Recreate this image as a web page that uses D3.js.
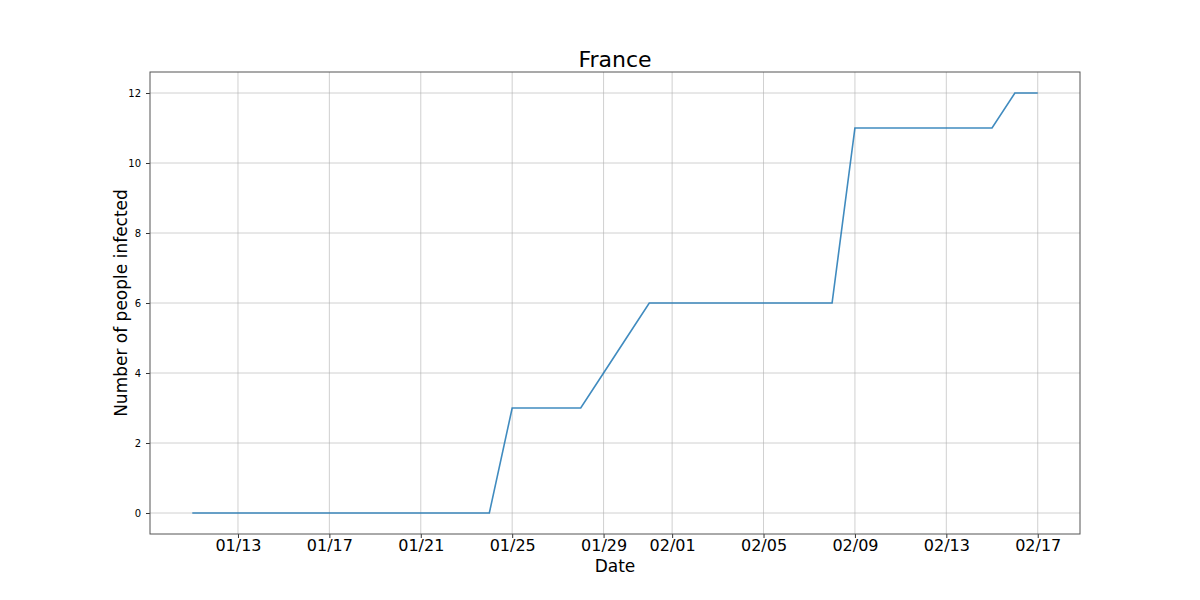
<!DOCTYPE html>
<html><head><meta charset="utf-8">
<script src="https://cdn.jsdelivr.net/npm/d3@7"></script>
<style>body{margin:0;background:#fff}svg{font-family:"DejaVu Sans",sans-serif}</style>
</head><body>
<svg id="c" width="1200" height="600"></svg>
<script>
const dates = ["2020-01-11","2020-01-12","2020-01-13","2020-01-14","2020-01-15","2020-01-16","2020-01-17","2020-01-18","2020-01-19","2020-01-20","2020-01-21","2020-01-22","2020-01-23","2020-01-24","2020-01-25","2020-01-26","2020-01-27","2020-01-28","2020-01-29","2020-01-30","2020-01-31","2020-02-01","2020-02-02","2020-02-03","2020-02-04","2020-02-05","2020-02-06","2020-02-07","2020-02-08","2020-02-09","2020-02-10","2020-02-11","2020-02-12","2020-02-13","2020-02-14","2020-02-15","2020-02-16","2020-02-17"];
const infected = [0,0,0,0,0,0,0,0,0,0,0,0,0,0,3,3,3,3,4,5,6,6,6,6,6,6,6,6,6,11,11,11,11,11,11,11,12,12];
const xTickDates = ["2020-01-13","2020-01-17","2020-01-21","2020-01-25","2020-01-29","2020-02-01","2020-02-05","2020-02-09","2020-02-13","2020-02-17"];
const yTicks = [0,2,4,6,8,10,12];

const parse = d3.utcParse("%Y-%m-%d");
const data = dates.map((d,i)=>({date:parse(d), v:infected[i]}));
const svg = d3.select("#c");
const L=150,R=1080,T=72,B=534;
const ext = d3.extent(data,d=>d.date);
const span = ext[1]-ext[0];
const x = d3.scaleUtc().domain([new Date(+ext[0]-span*0.05), new Date(+ext[1]+span*0.05)]).range([L,R]);
const y = d3.scaleLinear().domain([-0.6,12.6]).range([B,T]);

// grid
svg.append("g").selectAll("line").data(xTickDates.map(parse)).join("line")
  .attr("x1",d=>x(d)).attr("x2",d=>x(d)).attr("y1",T).attr("y2",B)
  .attr("stroke","#b0b0b0").attr("stroke-opacity",0.6).attr("stroke-width",1);
svg.append("g").selectAll("line").data(yTicks).join("line")
  .attr("y1",d=>y(d)).attr("y2",d=>y(d)).attr("x1",L).attr("x2",R)
  .attr("stroke","#b0b0b0").attr("stroke-opacity",0.6).attr("stroke-width",1);

// line
svg.append("path").datum(data)
  .attr("d",d3.line().x(d=>x(d.date)).y(d=>y(d.v)))
  .attr("fill","none").attr("stroke","#1f77b4").attr("stroke-opacity",0.85).attr("stroke-width",1.6);

// axes
const xa = svg.append("g").attr("transform",`translate(0,${B})`)
  .call(d3.axisBottom(x).tickValues(xTickDates.map(parse)).tickFormat(d3.utcFormat("%m/%d")).tickSizeOuter(0).tickSize(4).tickPadding(2));
xa.select(".domain").remove();
xa.selectAll("text").attr("font-size",16).attr("fill","#000").attr("font-family","DejaVu Sans");
xa.selectAll("line").attr("stroke","#333");
const ya = svg.append("g").attr("transform",`translate(${L},0)`)
  .call(d3.axisLeft(y).tickValues(yTicks).tickSizeOuter(0).tickSize(4).tickPadding(5));
ya.select(".domain").remove();
ya.selectAll("text").attr("font-size",10).attr("fill","#000").attr("font-family","DejaVu Sans");
ya.selectAll("line").attr("stroke","#333");

svg.append("rect").attr("x",L).attr("y",T).attr("width",R-L).attr("height",B-T)
  .attr("fill","none").attr("stroke","#555").attr("stroke-width",1);

svg.append("text").attr("x",(L+R)/2).attr("y",67).attr("text-anchor","middle").attr("font-size",22).text("France");
svg.append("text").attr("x",(L+R)/2).attr("y",572).attr("text-anchor","middle").attr("font-size",17).text("Date");
svg.append("text").attr("transform",`translate(127,303) rotate(-90)`).attr("text-anchor","middle").attr("font-size",17).text("Number of people infected");
</script>
</body></html>
